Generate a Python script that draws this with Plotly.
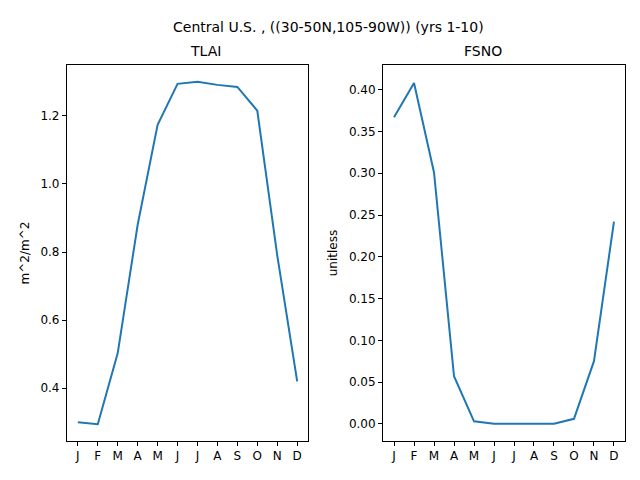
import plotly.graph_objs as go

months = ['J', 'F', 'M', 'A', 'M', 'J', 'J', 'A', 'S', 'O', 'N', 'D']
x = list(range(12))
tlai = [0.300, 0.294, 0.503, 0.880, 1.174, 1.294, 1.300, 1.291, 1.285, 1.215, 0.790, 0.420]  # m^2/m^2
fsno = [0.367, 0.408, 0.301, 0.057, 0.003, 0.0, 0.0, 0.0, 0.0, 0.006, 0.075, 0.242]  # unitless

fig = go.Figure()
fig.add_trace(go.Scatter(x=x, y=tlai, mode='lines', line=dict(color='#1f77b4', width=2),
                         xaxis='x', yaxis='y', showlegend=False))
fig.add_trace(go.Scatter(x=x, y=fsno, mode='lines', line=dict(color='#1f77b4', width=2),
                         xaxis='x2', yaxis='y2', showlegend=False))

ax = dict(showgrid=False, zeroline=False, showline=True, mirror=True, linecolor='black',
          ticks='outside', tickcolor='black', ticklen=4)
fig.update_layout(
    width=640, height=480, margin=dict(l=0, r=0, t=0, b=0),
    plot_bgcolor='white', paper_bgcolor='white',
    font=dict(family='DejaVu Sans', size=12, color='black'),
    xaxis=dict(ax, domain=[0.092, 0.469], range=[-0.55, 11.55], tickvals=x, ticktext=months, anchor='y'),
    yaxis=dict(ax, domain=[0.098, 0.881], range=[0.245, 1.349], tickvals=[0.4, 0.6, 0.8, 1.0, 1.2],
               tickformat='.1f', anchor='x', title=dict(text='m^2/m^2', standoff=8, font=dict(size=12))),
    xaxis2=dict(ax, domain=[0.586, 0.964], range=[-0.55, 11.55], tickvals=x, ticktext=months, anchor='y2'),
    yaxis2=dict(ax, domain=[0.098, 0.881], range=[-0.0205, 0.4295], tickvals=[0, 0.05, 0.1, 0.15, 0.2, 0.25, 0.3, 0.35, 0.4],
                tickformat='.2f', anchor='x2', title=dict(text='unitless', standoff=8, font=dict(size=12))),
    annotations=[
        dict(text='Central U.S. , ((30-50N,105-90W)) (yrs 1-10)', x=0.5, y=0.982, xref='paper', yref='paper',
             showarrow=False, font=dict(size=14)),
        dict(text='TLAI', x=0.2805, y=0.89, xref='paper', yref='paper', yanchor='bottom',
             showarrow=False, font=dict(size=14)),
        dict(text='FSNO', x=0.775, y=0.89, xref='paper', yref='paper', yanchor='bottom',
             showarrow=False, font=dict(size=14)),
    ],
)

fig.write_html("out.html")
